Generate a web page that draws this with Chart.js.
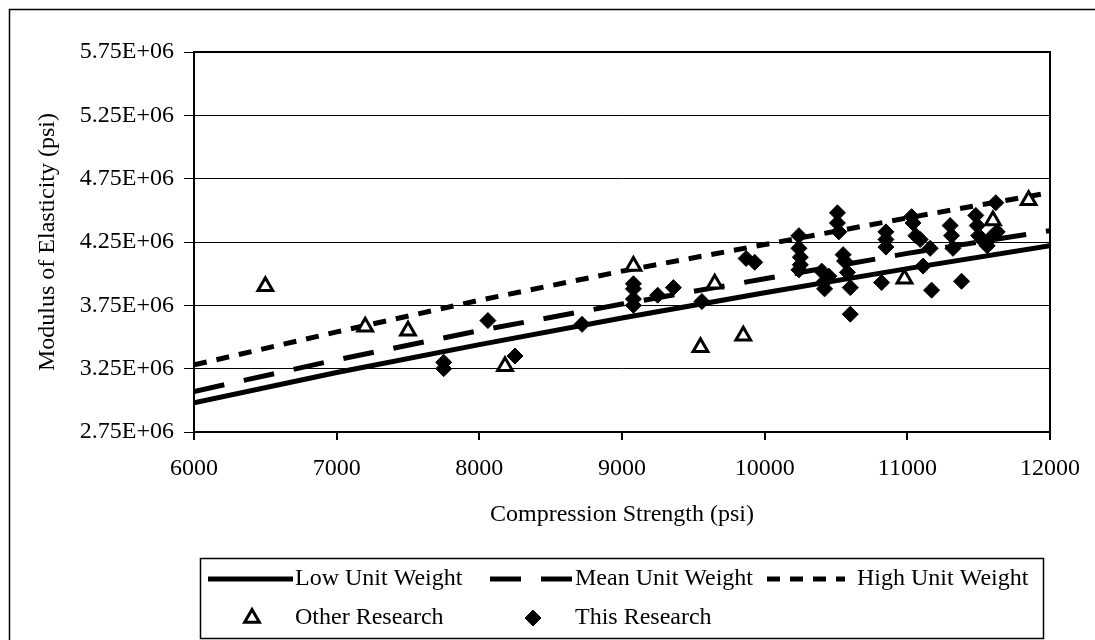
<!DOCTYPE html>
<html>
<head>
<meta charset="utf-8">
<script src="https://cdn.jsdelivr.net/npm/chart.js@4.4.1/dist/chart.umd.min.js"></script>
<style>
  html, body { margin: 0; padding: 0; background: #fff; }
</style>
</head>
<body>
<canvas id="chart" width="1095" height="640"></canvas>
<script>
// unit weight curves, read at each 1000 psi
const curveStrength = [6000, 7000, 8000, 9000, 10000, 11000, 12000];
const lowUnitWeight = [2.98e6, 3.22e6, 3.44e6, 3.65e6, 3.85e6, 4.04e6, 4.22e6];
const meanUnitWeight = [3.07e6, 3.32e6, 3.55e6, 3.76e6, 3.96e6, 4.16e6, 4.34e6];
const highUnitWeight = [3.28e6, 3.54e6, 3.79e6, 4.02e6, 4.23e6, 4.44e6, 4.64e6];

// other research (triangles)
const otherStrength = [6500, 7200, 7500, 8180, 9080, 9550, 9650, 9850, 10980, 11600, 11850];
const otherModulus = [3.90e6, 3.58e6, 3.55e6, 3.27e6, 4.06e6, 3.42e6, 3.92e6, 3.51e6, 3.96e6, 4.42e6, 4.58e6];

// this research (diamonds)
const thisStrength = [7750, 7750, 8060, 8250, 8720, 9080, 9080, 9080, 9080, 9250, 9360, 9560,
  9870, 9930, 10240, 10240, 10250, 10250, 10240, 10400, 10420, 10420, 10450, 10510, 10510,
  10520, 10550, 10560, 10580, 10600, 10600, 10820, 10850, 10850, 10850, 11030, 11040, 11060,
  11090, 11110, 11160, 11170, 11300, 11310, 11320, 11380, 11480, 11490, 11500, 11540, 11560,
  11600, 11620, 11630];
const thisModulus = [3.30e6, 3.25e6, 3.63e6, 3.35e6, 3.60e6, 3.92e6, 3.88e6, 3.80e6, 3.75e6, 3.83e6, 3.89e6, 3.78e6,
  4.12e6, 4.09e6, 4.30e6, 4.20e6, 4.13e6, 4.07e6, 4.03e6, 4.02e6, 3.94e6, 3.88e6, 3.98e6, 4.48e6, 4.40e6,
  4.33e6, 4.15e6, 4.10e6, 4.01e6, 3.89e6, 3.68e6, 3.93e6, 4.33e6, 4.27e6, 4.21e6, 4.45e6, 4.40e6, 4.30e6,
  4.27e6, 4.06e6, 4.20e6, 3.87e6, 4.38e6, 4.30e6, 4.20e6, 3.94e6, 4.46e6, 4.38e6, 4.30e6, 4.25e6, 4.22e6,
  4.30e6, 4.56e6, 4.33e6];

const xMin = 6000, xMax = 12000, xStep = 1000;
const yMin = 2.75e6, yMax = 5.75e6, yStep = 0.5e6;

const pairs = (xs, ys) => xs.map((x, i) => ({ x: x, y: ys[i] }));

Chart.defaults.font.family = '"Liberation Serif", "Times New Roman", serif';
Chart.defaults.font.size = 24;
Chart.defaults.color = '#000';

const lineStyle = (label, data, dash) => ({
  label: label,
  data: data,
  showLine: true,
  borderColor: '#000',
  borderWidth: 5,
  borderDash: dash,
  pointRadius: 0,
  order: 2
});

const datasets = [
  lineStyle('Low Unit Weight', pairs(curveStrength, lowUnitWeight), []),
  lineStyle('Mean Unit Weight', pairs(curveStrength, meanUnitWeight), [31, 20]),
  lineStyle('High Unit Weight', pairs(curveStrength, highUnitWeight), [13, 10]),
  {
    label: 'Other Research',
    data: pairs(otherStrength, otherModulus),
    pointStyle: 'triangle',
    pointRadius: 8.5,
    pointBorderWidth: 3,
    pointBorderColor: '#000',
    pointBackgroundColor: '#fff',
    order: 1
  },
  {
    label: 'This Research',
    data: pairs(thisStrength, thisModulus),
    pointStyle: 'rectRot',
    pointRadius: 8,
    pointBorderWidth: 1,
    pointBorderColor: '#000',
    pointBackgroundColor: '#000',
    order: 0
  }
];

// white page, outer frame and the box round the plot area
const frame = {
  id: 'frame',
  beforeDraw(chart) {
    const ctx = chart.ctx;
    ctx.save();
    ctx.fillStyle = '#fff';
    ctx.fillRect(0, 0, chart.width, chart.height);
    ctx.strokeStyle = '#000';
    ctx.lineWidth = 1.5;
    ctx.strokeRect(9.5, 9.5, chart.width + 10, chart.height + 10);
    ctx.restore();
  },
  afterDraw(chart) {
    const a = chart.chartArea;
    const ctx = chart.ctx;
    ctx.save();
    ctx.strokeStyle = '#000';
    ctx.lineWidth = 2;
    ctx.beginPath();
    ctx.moveTo(a.left, a.top);
    ctx.lineTo(a.right, a.top);
    ctx.lineTo(a.right, a.bottom);
    ctx.stroke();
    ctx.restore();
  }
};

// Excel-like boxed legend: lines on the first row, markers on the second
const boxLegend = {
  id: 'boxLegend',
  afterDraw(chart) {
    const ctx = chart.ctx;
    const ds = chart.data.datasets;
    const box = { x: 200, y: 558, w: 843, h: 80 };
    const row1 = 579, row2 = 618;
    ctx.save();
    ctx.strokeStyle = '#000';
    ctx.lineWidth = 1.5;
    ctx.strokeRect(box.x + 0.5, box.y + 0.5, box.w, box.h);

    const lines = [
      { i: 0, x0: 208, x1: 293, tx: 295 },
      { i: 1, x0: 490, x1: 573, tx: 575 },
      { i: 2, x0: 767, x1: 845, tx: 857 }
    ];
    ctx.font = '24px "Liberation Serif", serif';
    ctx.fillStyle = '#000';
    ctx.textBaseline = 'middle';
    ctx.textAlign = 'left';
    lines.forEach(l => {
      const d = ds[l.i];
      ctx.beginPath();
      ctx.lineWidth = d.borderWidth;
      ctx.setLineDash(d.borderDash);
      ctx.moveTo(l.x0, row1);
      ctx.lineTo(l.x1, row1);
      ctx.stroke();
      ctx.setLineDash([]);
      ctx.fillText(d.label, l.tx, row1);
    });

    const marks = [
      { i: 3, px: 252, tx: 295 },
      { i: 4, px: 533, tx: 575 }
    ];
    marks.forEach(m => {
      const d = ds[m.i];
      ctx.fillStyle = d.pointBackgroundColor;
      ctx.strokeStyle = d.pointBorderColor;
      ctx.lineWidth = d.pointBorderWidth;
      Chart.helpers.drawPoint(ctx, { pointStyle: d.pointStyle, radius: d.pointRadius, rotation: 0, borderWidth: d.pointBorderWidth }, m.px, row2);
      ctx.fillStyle = '#000';
      ctx.fillText(d.label, m.tx, row2);
    });
    ctx.restore();
  }
};

new Chart(document.getElementById('chart'), {
  type: 'scatter',
  data: { datasets: datasets },
  options: {
    responsive: false,
    animation: false,
    devicePixelRatio: 1,
    layout: { padding: { left: 0, top: 52, right: 45, bottom: 0 } },
    plugins: {
      legend: { display: false },
      tooltip: { enabled: false }
    },
    scales: {
      x: {
        type: 'linear',
        min: xMin,
        max: xMax,
        afterFit(scale) { scale.height = 208; },
        ticks: { stepSize: xStep, padding: 14, maxRotation: 0, autoSkip: false, callback: v => String(v) },
        grid: { drawOnChartArea: false, drawTicks: true, tickLength: 8, color: '#000', lineWidth: 2 },
        border: { color: '#000', width: 2 },
        title: { display: true, text: 'Compression Strength (psi)', padding: { top: 0, bottom: 111 } }
      },
      y: {
        type: 'linear',
        min: yMin,
        max: yMax,
        afterFit(scale) { scale.width = 194; },
        ticks: {
          stepSize: yStep,
          padding: 10,
          callback: v => (v / 1e6).toFixed(2) + 'E+06'
        },
        grid: { color: '#000', lineWidth: 1, tickLength: 10 },
        border: { color: '#000', width: 2 },
        title: { display: true, text: 'Modulus of Elasticity (psi)', padding: { top: 33, bottom: 0 } }
      }
    }
  },
  plugins: [frame, boxLegend]
});
</script>
</body>
</html>
